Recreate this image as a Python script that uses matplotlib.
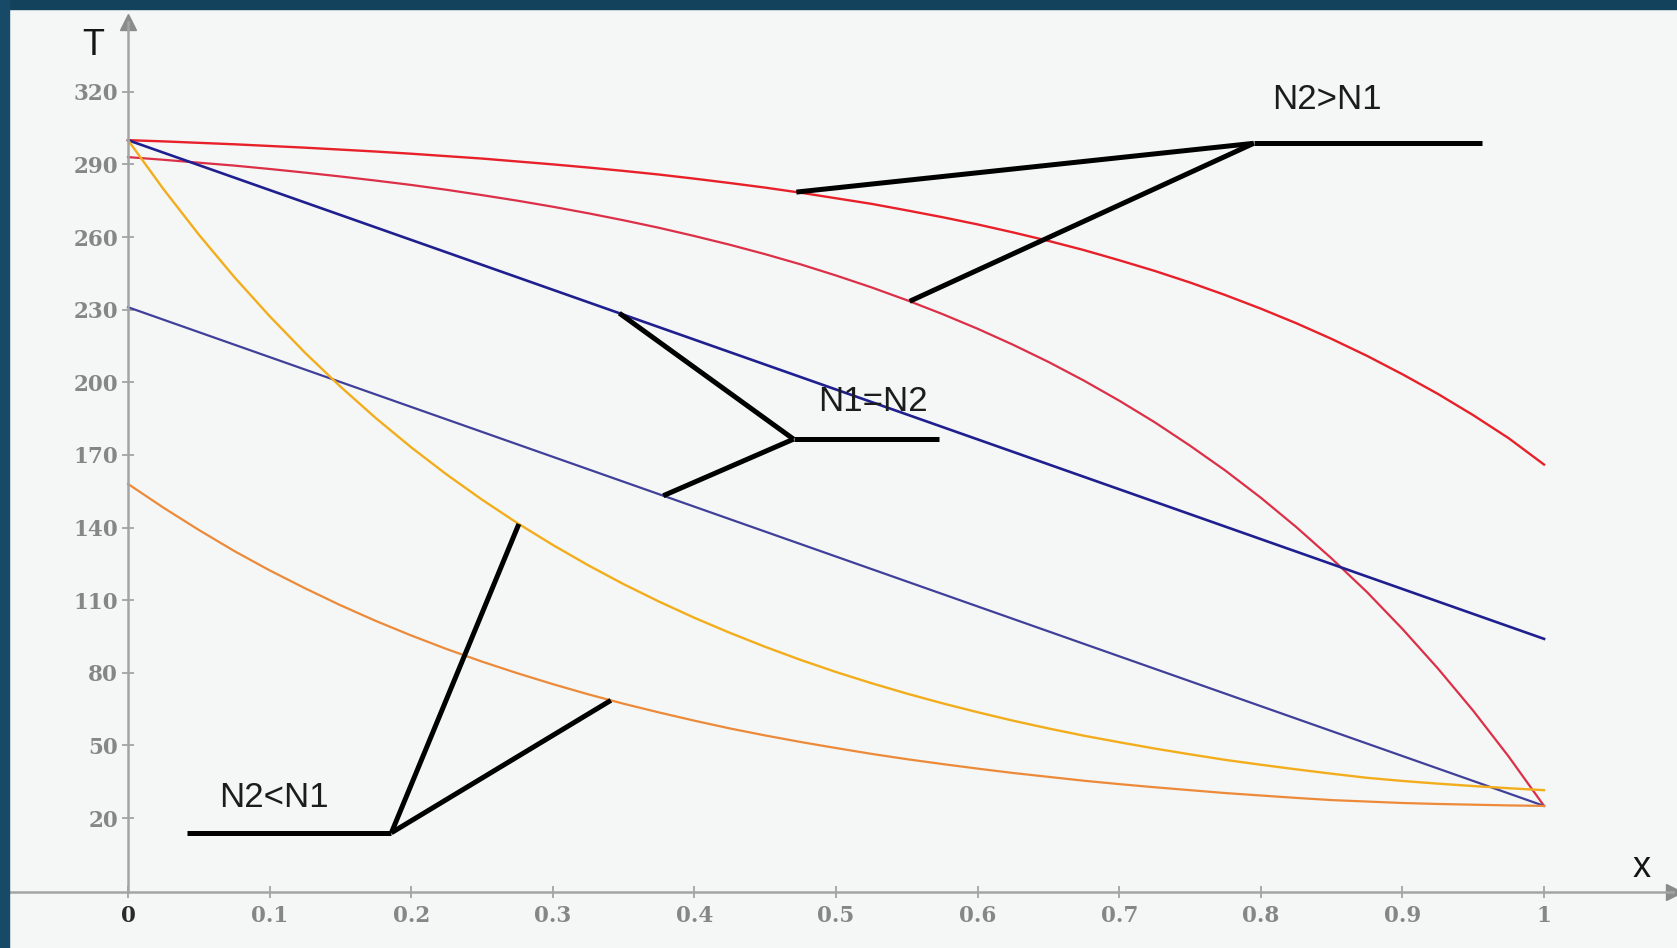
import numpy as np
import matplotlib.pyplot as plt
from matplotlib.patches import Rectangle

# temperature profiles T(x) along the rod, read every 0.025 from x = 0 to x = 1
X_POINTS = np.linspace(0.0, 1.0, 41)

T_RED_UPPER = [300.0, 299.5, 298.9, 298.3, 297.6, 296.9, 296.1, 295.3, 294.4, 293.4, 292.4,
               291.2, 290.0, 288.7, 287.3, 285.8, 284.1, 282.3, 280.4, 278.3, 276.0,
               273.7, 271.0, 268.2, 265.2, 261.9, 258.4, 254.6, 250.4, 246.0, 241.2,
               236.0, 230.4, 224.4, 217.9, 210.9, 203.3, 195.2, 186.4, 176.9, 166.0]
T_RED_LOWER = [293.0, 291.9, 290.7, 289.5, 288.1, 286.6, 285.0, 283.3, 281.5, 279.5, 277.3,
               275.0, 272.5, 269.8, 266.9, 263.8, 260.4, 256.8, 252.9, 248.7, 244.1,
               239.2, 233.9, 228.2, 222.1, 215.5, 208.4, 200.7, 192.4, 183.5, 173.8,
               163.5, 152.3, 140.2, 127.2, 113.3, 98.1, 81.8, 64.3, 45.4, 25.0]
T_YELLOW = [300.0, 279.8, 261.0, 243.5, 227.3, 212.2, 198.2, 185.2, 173.1, 161.9, 151.5,
            141.8, 132.8, 124.4, 116.6, 109.4, 102.7, 96.5, 90.7, 85.3, 80.3,
            75.7, 71.4, 67.4, 63.7, 60.2, 57.0, 54.0, 51.3, 48.7, 46.3,
            44.0, 42.0, 40.1, 38.3, 36.6, 35.3, 34.2, 33.2, 32.3, 31.5]
T_ORANGE = [158.0, 148.2, 139.0, 130.3, 122.3, 114.9, 107.9, 101.4, 95.4, 89.8, 84.6,
            79.8, 75.3, 71.1, 67.2, 63.6, 60.2, 57.0, 54.1, 51.4, 48.9,
            46.5, 44.3, 42.3, 40.4, 38.6, 37.0, 35.4, 34.0, 32.7, 31.5,
            30.3, 29.3, 28.3, 27.4, 26.8, 26.2, 25.8, 25.5, 25.2, 25.0]

# straight profiles (N1 = N2)
X_ENDS = [0.0, 1.0]
T_NAVY = [300.0, 94.0]
T_SLATE = [231.0, 25.0]

X_TICKS = [0, 0.1, 0.2, 0.3, 0.4, 0.5, 0.6, 0.7, 0.8, 0.9, 1]
X_TICK_LABELS = ["0", "0.1", "0.2", "0.3", "0.4", "0.5", "0.6", "0.7", "0.8", "0.9", "1"]
Y_TICKS = [20, 50, 80, 110, 140, 170, 200, 230, 260, 290, 320]

BG = "#f4f7f5"
FRAME = "#13425c"
AXIS_GREY = "#a3a5a4"
LABEL_GREY = "#858786"

fig = plt.figure(figsize=(16.77, 9.48), dpi=100, facecolor=BG)
ax = fig.add_axes([0, 0, 1, 1], facecolor=BG)
ax.set_xlim(-0.0904, 1.0939)
ax.set_ylim(-33.7, 357.9)

x = X_POINTS
ax.plot(x, T_RED_UPPER, color="#e8202a", lw=1.7)
ax.plot(x, T_RED_LOWER, color="#dc2f48", lw=1.6)
ax.plot(X_ENDS, T_NAVY, color="#1f1f8f", lw=1.9)
ax.plot(X_ENDS, T_SLATE, color="#40409a", lw=1.6)
ax.plot(x, T_YELLOW, color="#f3ad1c", lw=1.7)
ax.plot(x, T_ORANGE, color="#ec8a3a", lw=1.6)

# axes crossing at the bottom of the range, with arrow heads
X_AXIS_LEVEL = -10.6
for side in ["top", "right"]:
    ax.spines[side].set_visible(False)
ax.spines["left"].set_position(("data", 0))
ax.spines["bottom"].set_position(("data", X_AXIS_LEVEL))
ax.spines["left"].set_bounds(X_AXIS_LEVEL, 349)
ax.spines["bottom"].set_bounds(-0.0841, 1.091)
for side in ["left", "bottom"]:
    ax.spines[side].set_color(AXIS_GREY)
    ax.spines[side].set_linewidth(1.8)
ax.plot([0], [349], marker="^", color="#8a8c8b", markersize=11, clip_on=False)
ax.plot([1.0915], [X_AXIS_LEVEL], marker=">", color="#8a8c8b", markersize=11, clip_on=False)

ax.set_xticks(X_TICKS)
ax.set_xticklabels(X_TICK_LABELS)
ax.set_yticks(Y_TICKS)
ax.tick_params(direction="inout", length=8.5, width=1.3, color=AXIS_GREY,
               labelcolor=LABEL_GREY, labelsize=15.5)
ax.tick_params(axis="x", pad=5)
ax.tick_params(axis="y", pad=3)
for lab in ax.get_xticklabels() + ax.get_yticklabels():
    lab.set_family("DejaVu Serif")
    lab.set_fontweight("bold")
zero = ax.get_xticklabels()[0]
zero.set_color("#2a2a2a")

ax.text(-0.0247, 339.3, "T", fontsize=26, family="Liberation Sans",
        ha="center", va="center", color="#151515")
ax.text(1.069, -0.6, "x", fontsize=26, family="Liberation Sans",
        ha="center", va="center", color="#151515")


# callouts: elbow, horizontal bar end, and arms that touch the curves
def callout(elbow, bar_end, targets):
    ex, ey = elbow
    ax.plot([ex, bar_end], [ey, ey], color="black", lw=3.6, solid_capstyle="butt")
    for tx, xs, ts in targets:
        ty = np.interp(tx, xs, ts)
        ax.plot([ex, tx], [ey, ty], color="black", lw=3.6, solid_capstyle="butt")


callout((0.795, 298.7), 0.956, [(0.472, x, T_RED_UPPER), (0.552, x, T_RED_LOWER)])
callout((0.470, 176.5), 0.573, [(0.347, X_ENDS, T_NAVY), (0.378, X_ENDS, T_SLATE)])
callout((0.186, 13.9), 0.0414, [(0.276, x, T_YELLOW), (0.341, x, T_ORANGE)])

label_kw = dict(fontsize=25, family="Liberation Sans", ha="center", va="center", color="#1c1c1c")
ax.text(0.847, 316.6, "N2>N1", **label_kw)
ax.text(0.526, 192.0, "N1=N2", **label_kw)
ax.text(0.103, 28.4, "N2<N1", **label_kw)

# dark frame along the top and left edges
fig.patches.append(Rectangle((0, 1 - 9 / 948), 1, 9 / 948, transform=fig.transFigure,
                             color=FRAME, zorder=10))
fig.patches.append(Rectangle((0, 0), 9 / 1677, 1, transform=fig.transFigure,
                             color="#174a66", zorder=10))

fig.savefig("out.png", dpi=100, facecolor=BG)
